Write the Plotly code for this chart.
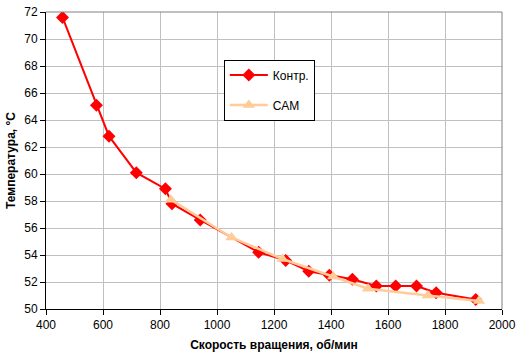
import plotly.graph_objects as go

# Data
kontr_rpm = [458, 577, 621, 717, 819, 842, 941, 1146, 1241, 1322, 1394, 1475, 1559, 1627, 1700, 1769, 1908]
kontr_temp = [71.6, 65.1, 62.8, 60.1, 58.9, 57.8, 56.6, 54.2, 53.6, 52.8, 52.5, 52.2, 51.7, 51.7, 51.7, 51.2, 50.7]

cam_rpm = [838, 1051, 1230, 1408, 1530, 1740, 1919]
cam_temp = [58.1, 55.3, 53.7, 52.4, 51.5, 51.0, 50.6]

x_title = "Скорость вращения, об/мин"
y_title = "Температура, °С"

FONT = "Liberation Sans, Arial, sans-serif"

fig = go.Figure()
fig.add_trace(go.Scatter(
    x=kontr_rpm, y=kontr_temp, name="Контр.", mode="lines+markers",
    line=dict(color="#FF0000", width=2),
    marker=dict(symbol="diamond", size=10, color="#FF0000", line=dict(width=0)),
    legendgroup="a",
))
fig.add_trace(go.Scatter(
    x=cam_rpm, y=cam_temp, name="САМ", mode="lines+markers",
    line=dict(color="#FFCC99", width=2.5),
    marker=dict(symbol="triangle-up", size=11, color="#FFCC99", line=dict(width=0)),
    legendgroup="b",
))

axis_common = dict(
    showgrid=True, gridcolor="#C0C0C0", gridwidth=1,
    showline=True, linecolor="#000000", linewidth=1,
    ticks="outside", ticklen=5, tickcolor="#000000",
    tickfont=dict(family=FONT, size=12, color="#000000"),
    ticklabeloverflow="allow",
    zeroline=False, mirror=False,
)

fig.update_layout(
    width=521, height=355,
    margin=dict(l=46, r=13, t=5, b=44),
    paper_bgcolor="white", plot_bgcolor="white",
    font=dict(family=FONT, size=12, color="#000000"),
    xaxis=dict(range=[400, 2000], dtick=200,
               title=dict(text="<b>" + x_title + "</b>", font=dict(family=FONT, size=12), standoff=9),
               **axis_common),
    yaxis=dict(range=[50, 72], dtick=2,
               title=dict(text="<b>" + y_title + "</b>", font=dict(family=FONT, size=12), standoff=6),
               **axis_common),
    legend=dict(x=0.39, y=0.84, xanchor="left", yanchor="top",
                bordercolor="#000000", borderwidth=1, bgcolor="white",
                font=dict(family=FONT, size=12),
                traceorder="grouped", tracegroupgap=11,
                itemwidth=38),
    showlegend=True,
    shapes=[
        dict(type="line", xref="paper", yref="paper", x0=0, x1=1, y0=1, y1=1,
             line=dict(color="#808080", width=1)),
        dict(type="line", xref="paper", yref="paper", x0=1, x1=1, y0=0, y1=1,
             line=dict(color="#808080", width=1)),
    ],
)

fig.write_html("out.html", config={"displayModeBar": False},
               post_script="document.body.style.margin='0';document.body.style.overflow='hidden';")
